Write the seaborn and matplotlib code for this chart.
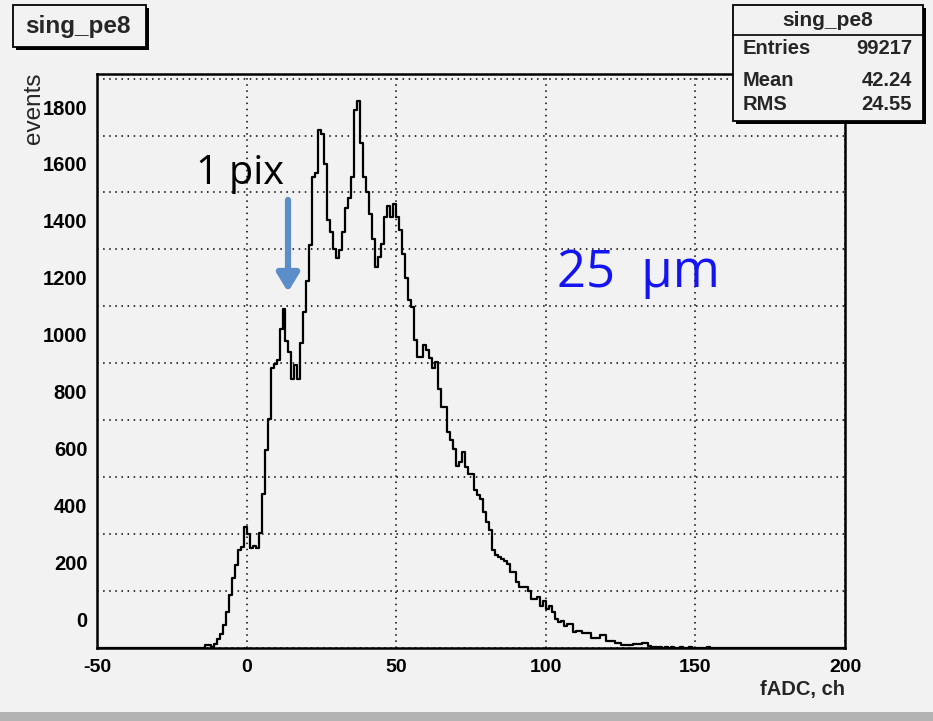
import numpy as np
import pandas as pd
import matplotlib
matplotlib.use("Agg")
import matplotlib.pyplot as plt
import seaborn as sns
from matplotlib import font_manager
from matplotlib.patches import Rectangle
from matplotlib.ticker import MultipleLocator, FuncFormatter, NullFormatter

# ---------------- data ----------------
first_channel = -14          # left edge of the first non-empty 1-channel bin
counts = [
    10, 10, 3, 15, 30, 50, 80, 125, 186, 245, 291, 344, 355, 426,          # -14 .. -1
    402, 350, 358, 350, 403, 540, 697, 806, 982, 999, 1010, 1121, 1192,    # 0 .. 12
    1080, 1040, 946, 993, 946, 1070, 1180, 1290, 1414, 1654, 1670, 1818,   # 13 .. 24
    1806, 1700, 1502, 1461, 1403, 1370, 1397, 1461, 1544, 1579, 1654,      # 25 .. 35
    1888, 1920, 1775, 1654, 1600, 1525, 1437, 1338, 1373, 1420, 1513,      # 36 .. 46
    1554, 1513, 1560, 1513, 1467, 1385, 1300, 1221, 1198, 1081, 1022,      # 47 .. 57
    1022, 1063, 1048, 1020, 985, 1005, 911, 846, 846, 759, 730, 698,       # 58 .. 69
    640, 652, 687, 635, 612, 612, 554, 536, 525, 478, 443, 413, 343,       # 70 .. 82
    325, 319, 313, 307, 296, 266, 266, 231, 213, 213, 213, 200, 172,       # 83 .. 95
    172, 178, 149, 166, 137, 149, 125, 102, 91, 96, 78, 84, 84, 55,        # 96 .. 109
    61, 61, 52, 52, 52, 35, 35, 35, 44, 44, 26, 26, 26, 18, 18,            # 110 .. 124
    12, 12, 12, 12, 14, 14, 14, 18, 18, 6, 3,                              # 125 .. 135
    2, 1, 2, 1, 3, 1, 2, 0, 1, 2, 1, 0, 2, 1, 1, 0, 1, 0, 2,               # 136 .. 154
]
hist_name = "sing_pe8"
stats_labels = ["Entries", "Mean", "RMS"]
stats_values = ["99217", "42.24", "24.55"]
x_ticks = [-50, 0, 50, 100, 150, 200]
y_tick_labels = [0, 200, 400, 600, 800, 1000, 1200, 1400, 1600, 1800]
x_label = "fADC, ch"
y_label = "events"
note_pix = "1 pix"
note_size = "25  μm"

# ---------------- fonts ----------------
names = {f.name for f in font_manager.fontManager.ttflist}
root_font = "Liberation Sans" if "Liberation Sans" in names else "DejaVu Sans"
has_narrow = "Liberation Sans Narrow" in names
narrow_font = "Liberation Sans Narrow" if has_narrow else root_font
stats_size = 17 if has_narrow else 14.5
note_font = "Open Sans" if "Open Sans" in names else "DejaVu Sans"

sns.set_theme(style="white")
plt.rcParams["font.family"] = [root_font, "DejaVu Sans"]

W, H = 933, 721
BG = "#f2f2f2"
fig = plt.figure(figsize=(W / 100, H / 100), dpi=100, facecolor=BG)


def fx(x):
    return x / W


def fy(y):
    return 1 - y / H


L, R, T, B = 97, 845, 74, 648
ax = fig.add_axes([fx(L), fy(B), (R - L) / W, (B - T) / H])
ax.set_facecolor(BG)

df = pd.DataFrame({"channel": first_channel + np.arange(len(counts)) + 0.5,
                   "events": np.asarray(counts, dtype=float)})
sns.histplot(data=df, x="channel", weights="events", binwidth=1, binrange=(-50, 200),
             element="step", fill=False, color="black", linewidth=1.6, ax=ax)

ax.set_xlim(-50, 200)
ax.set_ylim(0, 2016)
ax.set_xlabel("")
ax.set_ylabel("")

# grid (dotted) on major ticks
ax.set_xticks(x_ticks)
ax.xaxis.set_minor_locator(MultipleLocator(10))
ax.yaxis.set_major_locator(MultipleLocator(200))
ax.yaxis.set_minor_locator(MultipleLocator(50))
ax.grid(True, which="major", color="black", linestyle=(0, (1, 3)), linewidth=1.1)
ax.set_axisbelow(True)

for s in ax.spines.values():
    s.set_color("black")
    s.set_linewidth(1.8)

ax.tick_params(axis="x", which="major", direction="in", length=17, width=1.3,
               top=False, labelsize=14, pad=8, colors="black")
ax.tick_params(axis="x", which="minor", direction="in", length=9, width=1.3, top=False)
ax.tick_params(axis="y", which="major", direction="in", length=24, width=1.3,
               right=False, labelleft=False)
ax.tick_params(axis="y", which="minor", direction="in", length=12, width=1.3,
               right=False, labelsize=14.5, pad=7, colors="black")
ax.set_xticklabels([str(v) for v in x_ticks], fontweight="bold")

# y labels as drawn in the reference (between the major grid lines)
ylab = {v + 100: str(v) for v in y_tick_labels}
ax.yaxis.set_major_formatter(NullFormatter())
ax.yaxis.set_minor_formatter(FuncFormatter(lambda v, p: ylab.get(int(round(v)), "")))
for t in ax.yaxis.get_minorticklabels():
    t.set_fontweight("bold")

# axis titles
fig.text(fx(845), fy(690), x_label, ha="right", va="center", fontsize=14.5,
         fontweight="bold", family=[root_font])
fig.text(fx(34), fy(73), y_label, ha="center", va="top", rotation=90,
         fontsize=17.5, family=[root_font])

# ---- title box (ROOT style with shadow) ----
def root_box(x0, y0, x1, y1, sh=3):
    fig.patches.append(Rectangle((fx(x0 + sh), fy(y1 + sh)), (x1 - x0) / W, (y1 - y0) / H,
                                 transform=fig.transFigure, facecolor="black",
                                 edgecolor="none", zorder=5))
    fig.patches.append(Rectangle((fx(x0), fy(y1)), (x1 - x0) / W, (y1 - y0) / H,
                                 transform=fig.transFigure, facecolor=BG,
                                 edgecolor="black", linewidth=1.3, zorder=6))

root_box(13, 5, 146, 47)
fig.text(fx(78), fy(27), hist_name, ha="center", va="center", fontsize=17.5,
         fontweight="bold", zorder=7)

# ---- stats box ----
root_box(733, 5, 923, 121)
fig.add_artist(plt.Line2D([fx(733), fx(923)], [fy(35), fy(35)], color="black",
                          linewidth=1.2, transform=fig.transFigure, zorder=7))
fig.text(fx(828), fy(20), hist_name, ha="center", va="center", fontsize=15,
         fontweight="bold", zorder=7)
for i, (lab, val) in enumerate(zip(stats_labels, stats_values)):
    yy = [49, 80, 105][i]
    fig.text(fx(743), fy(yy), lab, ha="left", va="center", fontsize=stats_size,
             fontweight="bold", family=[narrow_font], zorder=7)
    fig.text(fx(912), fy(yy), val, ha="right", va="center", fontsize=stats_size,
             fontweight="bold", family=[narrow_font], zorder=7)

# ---- annotations ----
fig.text(fx(196), fy(184), note_pix, ha="left", va="baseline", fontsize=28.5,
         color="black", family=[note_font])
ax.annotate("", xy=(fx(288), fy(292)), xytext=(fx(288), fy(200)),
            xycoords="figure fraction", textcoords="figure fraction",
            arrowprops=dict(arrowstyle="-|>,head_width=0.55,head_length=0.9",
                            color="#5b8dc9", linewidth=4.5, shrinkA=0, shrinkB=0))
fig.text(fx(557), fy(287), note_size, ha="left", va="baseline", fontsize=36.5,
         color="#1414f2", family=[note_font])

# bottom grey strip of the screenshot
fig.patches.append(Rectangle((0, 0), 1, 9 / H, transform=fig.transFigure,
                             facecolor="#b3b3b3", edgecolor="none", zorder=0))

fig.savefig("out.png", dpi=100, facecolor=BG)
